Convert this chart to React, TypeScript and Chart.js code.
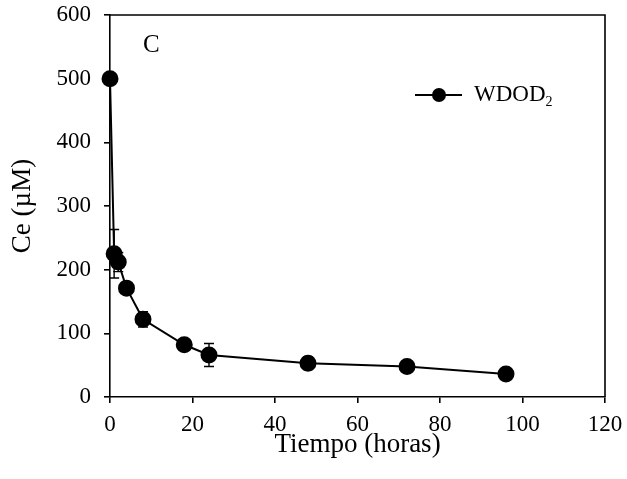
import React, { useEffect, useRef } from "react";
import { Chart, registerables } from "chart.js";

Chart.register(...registerables);

const hours = [0, 1, 2, 4, 8, 18, 24, 48, 72, 96];
const ceValues = [500, 225, 212, 171, 122, 82, 66, 53, 48, 36];
const ceErrors = [0, 38, 15, 0, 12, 0, 18, 10, 0, 0];
const seriesLabel = "WDOD";
const seriesSub = "2";
const panelLabel = "C";
const xTitle = "Tiempo (horas)";
const yTitle = "Ce (\u00B5M)";

const FONT = '"Liberation Serif", "Times New Roman", serif';

const decorPlugin = {
  id: "decor",
  afterDatasetsDraw(chart: any) {
    const { ctx, chartArea, scales } = chart;
    const xs = scales.x;
    const ys = scales.y;
    ctx.save();
    // frame (top & right)
    ctx.strokeStyle = "#000";
    ctx.lineWidth = 1.6;
    ctx.beginPath();
    ctx.moveTo(chartArea.left, chartArea.top);
    ctx.lineTo(chartArea.right, chartArea.top);
    ctx.lineTo(chartArea.right, chartArea.bottom);
    ctx.stroke();
    // error bars
    ctx.lineWidth = 1.4;
    for (let i = 0; i < hours.length; i++) {
      const e = ceErrors[i];
      if (!e) continue;
      const px = xs.getPixelForValue(hours[i]);
      const top = ys.getPixelForValue(ceValues[i] + e);
      const bot = ys.getPixelForValue(ceValues[i] - e);
      ctx.beginPath();
      ctx.moveTo(px, top);
      ctx.lineTo(px, bot);
      ctx.moveTo(px - 5, top);
      ctx.lineTo(px + 5, top);
      ctx.moveTo(px - 5, bot);
      ctx.lineTo(px + 5, bot);
      ctx.stroke();
    }
    // panel label
    ctx.fillStyle = "#000";
    ctx.font = `25px ${FONT}`;
    ctx.textBaseline = "middle";
    ctx.textAlign = "left";
    ctx.fillText(panelLabel, chartArea.left + 33, chartArea.top + 30);
    // legend
    const ly = chartArea.top + 80;
    const lx = chartArea.left + 305;
    ctx.lineWidth = 2;
    ctx.beginPath();
    ctx.moveTo(lx, ly);
    ctx.lineTo(lx + 47, ly);
    ctx.stroke();
    ctx.beginPath();
    ctx.arc(lx + 24, ly, 7, 0, Math.PI * 2);
    ctx.fill();
    ctx.font = `23px ${FONT}`;
    const tx = lx + 59;
    ctx.fillText(seriesLabel, tx, ly);
    const w = ctx.measureText(seriesLabel).width;
    ctx.font = `14px ${FONT}`;
    ctx.fillText(seriesSub, tx + w, ly + 7);
    ctx.restore();
  },
};

export default function App() {
  const ref = useRef<HTMLCanvasElement | null>(null);
  useEffect(() => {
    if (!ref.current) return;
    const chart = new Chart(ref.current, {
      type: "line",
      data: {
        datasets: [
          {
            label: seriesLabel + seriesSub,
            data: hours.map((h, i) => ({ x: h, y: ceValues[i] })),
            borderColor: "#000",
            backgroundColor: "#000",
            borderWidth: 2,
            pointRadius: 7.5,
            pointBackgroundColor: "#000",
            pointBorderColor: "#000",
            tension: 0,
            clip: false as any,
          },
        ],
      },
      options: {
        animation: false,
        responsive: false,
        maintainAspectRatio: false,
        layout: { padding: { top: 15, right: 22, left: 0, bottom: 0 } },
        plugins: {
          legend: { display: false },
          tooltip: { enabled: false },
        },
        scales: {
          x: {
            type: "linear",
            min: 0,
            max: 120,
            afterFit: (s: any) => {
              s.height = 82;
              s.paddingLeft = 0;
              s.paddingRight = 0;
            },
            ticks: {
              stepSize: 20,
              color: "#000",
              padding: 8,
              font: { family: FONT, size: 23 },
            },
            grid: {
              drawOnChartArea: false,
              drawTicks: true,
              tickLength: 6,
              color: "#000",
              lineWidth: 1.6,
            },
            border: { color: "#000", width: 1.6 },
            title: {
              display: true,
              text: xTitle,
              color: "#000",
              font: { family: FONT, size: 27 },
              padding: { top: 0, bottom: 18 },
            },
          },
          y: {
            type: "linear",
            min: 0,
            max: 600,
            afterFit: (s: any) => {
              s.width = 110;
              s.paddingTop = 0;
              s.paddingBottom = 0;
            },
            ticks: {
              stepSize: 100,
              color: "#000",
              padding: 13,
              font: { family: FONT, size: 23 },
            },
            grid: {
              drawOnChartArea: false,
              drawTicks: true,
              tickLength: 6,
              color: "#000",
              lineWidth: 1.6,
            },
            border: { color: "#000", width: 1.6 },
            title: {
              display: true,
              text: yTitle,
              color: "#000",
              font: { family: FONT, size: 27 },
              padding: { top: 7, bottom: 0 },
            },
          },
        },
      },
      plugins: [decorPlugin],
    });
    return () => chart.destroy();
  }, []);
  return (
    <div style={{ position: "fixed", left: 0, top: 0, width: 627, height: 479, background: "#fff" }}>
      <canvas ref={ref} width={627} height={479} style={{ width: 627, height: 479 }} />
    </div>
  );
}
